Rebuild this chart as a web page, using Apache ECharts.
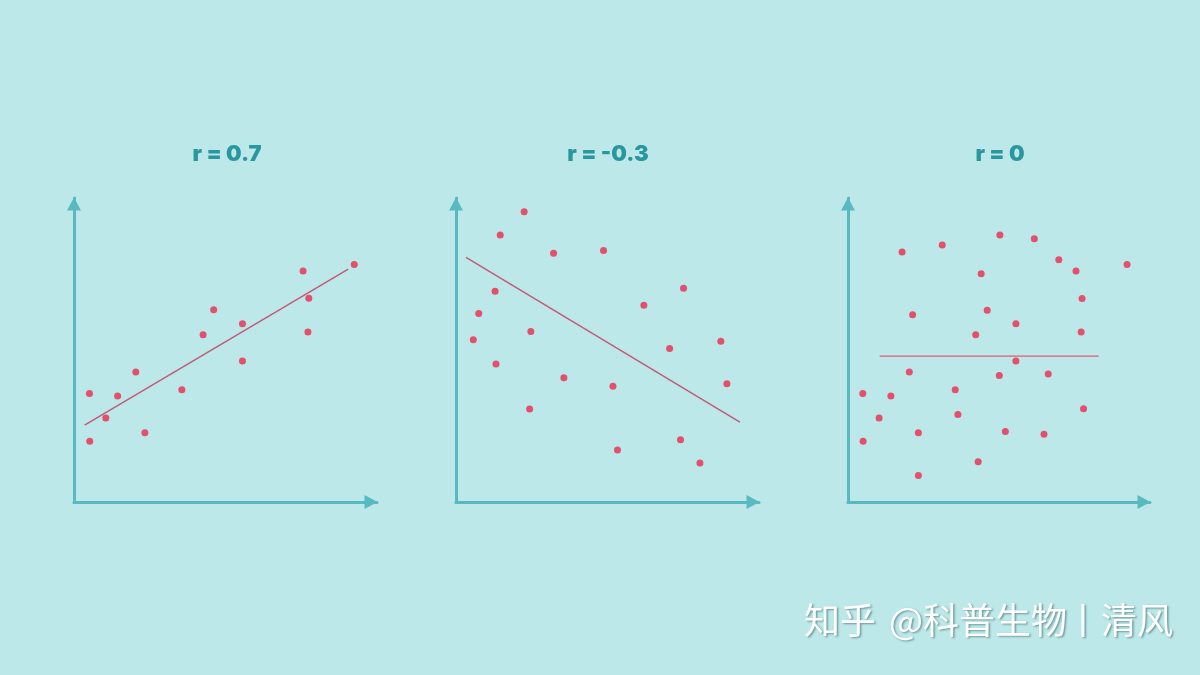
<!DOCTYPE html>
<html>
<head>
<meta charset="utf-8">
<style>
  html, body { margin: 0; padding: 0; background: #bde8e9; }
  #chart { width: 1200px; height: 675px; }
</style>
<script src="https://cdn.jsdelivr.net/npm/echarts@6/dist/echarts.min.js"></script>
</head>
<body>
<div id="chart"></div>
<script>
// ---- Data (abstract 0..10 units) ----
const titles = ['r = 0.7', 'r = -0.3', 'r = 0'];

const pointsA = [
  [9.25, 7.81], [7.56, 7.60], [7.75, 6.70], [7.72, 5.59], [4.61, 6.32],
  [5.56, 5.86], [4.26, 5.50], [5.56, 4.64], [2.04, 4.28], [0.51, 3.57],
  [1.44, 3.49], [3.56, 3.69], [1.05, 2.76], [2.34, 2.28], [0.52, 2.00]
];
const lineA = [[0.35, 2.53], [9.05, 7.66]];

const pointsB = [
  [2.25, 9.55], [1.46, 8.78], [3.22, 8.18], [4.87, 8.27], [1.29, 6.93],
  [7.51, 7.03], [0.75, 6.20], [6.20, 6.47], [2.47, 5.61], [0.57, 5.34],
  [8.74, 5.29], [7.05, 5.05], [1.32, 4.54], [3.56, 4.09], [5.18, 3.81],
  [8.94, 3.89], [2.43, 3.06], [7.41, 2.05], [5.33, 1.71], [8.05, 1.28]
];
const lineB = [[0.33, 8.05], [9.37, 2.63]];

const pointsC = [
  [5.03, 8.78], [6.17, 8.66], [3.12, 8.45], [1.79, 8.22], [6.98, 7.97],
  [9.24, 7.81], [7.55, 7.60], [4.41, 7.51], [7.75, 6.69], [4.61, 6.31],
  [2.14, 6.16], [5.56, 5.86], [4.23, 5.50], [7.72, 5.59], [5.56, 4.64],
  [2.03, 4.28], [5.01, 4.16], [6.63, 4.21], [0.49, 3.57], [1.42, 3.49],
  [3.55, 3.69], [1.03, 2.76], [3.64, 2.88], [7.80, 3.07], [2.33, 2.28],
  [5.21, 2.32], [6.49, 2.23], [0.50, 2.00], [4.31, 1.32], [2.33, 0.87]
];
const lineC = [[1.05, 4.80], [8.30, 4.80]];

const watermarkParts = ['知乎', '@科普生物', '丨', '清风'];

// ---- Styles ----
const AXIS_COLOR = '#58b9c1';
const POINT_COLOR = '#e2506d';
const TITLE_COLOR = '#2a979e';

const grids = [
  { left: 74, top: 198, width: 303, height: 304 },
  { left: 456, top: 198, width: 303, height: 304 },
  { left: 848, top: 198, width: 302, height: 304 }
];
const titleCenters = [222, 603, 995];

function axis(idx) {
  return {
    type: 'value', gridIndex: idx, min: 0, max: 10,
    axisLine: {
      show: true, onZero: false,
      lineStyle: { color: AXIS_COLOR, width: 3 },
      symbol: ['none', 'triangle'],
      symbolSize: [14, 13],
      symbolOffset: [0, -6]
    },
    axisTick: { show: false }, axisLabel: { show: false }, splitLine: { show: false }
  };
}

const pointSets = [pointsA, pointsB, pointsC];
const lineSets = [lineA, lineB, lineC];
const lineColors = ['#c05a78', '#c05a78', '#de5a75'];

const series = [];
pointSets.forEach((pts, i) => {
  series.push({
    type: 'line', xAxisIndex: i, yAxisIndex: i, data: lineSets[i],
    symbol: 'none', silent: true,
    lineStyle: { color: lineColors[i], width: 1.4 }, z: 2
  });
  series.push({
    type: 'scatter', xAxisIndex: i, yAxisIndex: i, data: pts,
    symbolSize: 7, itemStyle: { color: POINT_COLOR, opacity: 1 }, z: 3
  });
});

const wmLeft = [804, 889, 1065, 1101];
const wmStyle = {
  fill: '#ffffff', fontSize: 36, fontFamily: 'Noto Sans CJK SC',
  textShadowColor: 'rgba(40,90,100,0.55)', textShadowBlur: 2,
  textShadowOffsetX: 1.5, textShadowOffsetY: 1.5
};

const chart = echarts.init(document.getElementById('chart'), null, { renderer: 'canvas' });
chart.setOption({
  backgroundColor: '#bde8e9',
  animation: false,
  grid: grids,
  xAxis: grids.map((g, i) => axis(i)),
  yAxis: grids.map((g, i) => axis(i)),
  title: titles.map((t, i) => ({
    text: t, left: titleCenters[i], top: 138, textAlign: 'center',
    textStyle: { color: TITLE_COLOR, fontSize: 22, fontWeight: 900, fontFamily: 'Inter' }
  })),
  graphic: watermarkParts.map((t, i) => ({
    type: 'text', left: wmLeft[i], top: 602,
    style: Object.assign({ text: t }, wmStyle)
  })),
  series: series
});
</script>
</body>
</html>
